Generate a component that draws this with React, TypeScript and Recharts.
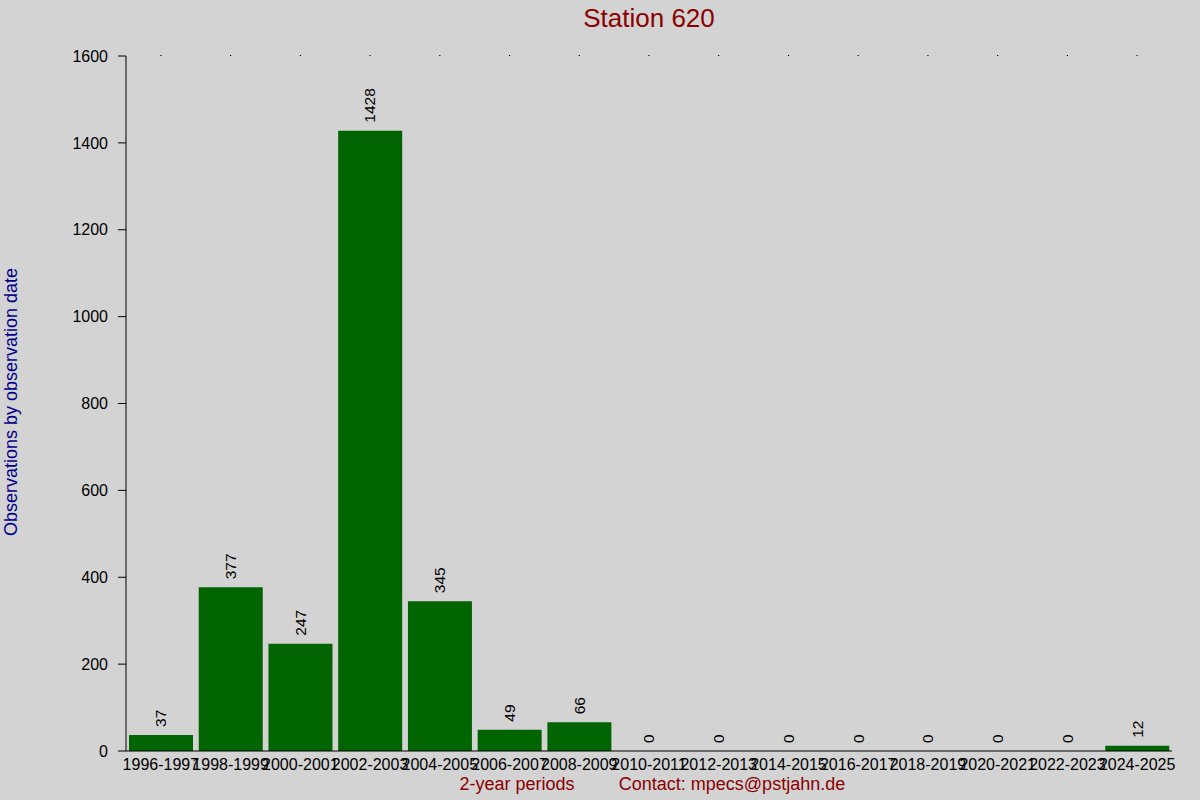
import React from "react";
import { Bar, ComposedChart, LabelList, Line, XAxis, YAxis } from "recharts";

// observations per 2-year period for station 620
const periods = [
  "1996-1997",
  "1998-1999",
  "2000-2001",
  "2002-2003",
  "2004-2005",
  "2006-2007",
  "2008-2009",
  "2010-2011",
  "2012-2013",
  "2014-2015",
  "2016-2017",
  "2018-2019",
  "2020-2021",
  "2022-2023",
  "2024-2025",
];
const observations = [37, 377, 247, 1428, 345, 49, 66, 0, 0, 0, 0, 0, 0, 0, 12];
const yTicks = [0, 200, 400, 600, 800, 1000, 1200, 1400, 1600];

const title = "Station 620";
const yTitle = "Observations by observation date";
const xTitle = "2-year periods";
const contact = "Contact: mpecs@pstjahn.de";

const FONT = "'Liberation Sans', Arial, sans-serif";

if (typeof document !== "undefined") {
  document.body.style.margin = "0";
}

// rotated value above each bar; drawn from an invisible line so zero bars get one too
function ValueLabel(props: any) {
  const { x, y, value } = props;
  const cx = Number(x);
  const top = Number(y) - 8;
  return (
    <text
      x={cx}
      y={top}
      transform={`rotate(-90 ${cx} ${top})`}
      textAnchor="start"
      dy="0.35em"
      fontSize={15.5}
      fontFamily={FONT}
      fill="#000"
    >
      {value}
    </text>
  );
}

export default function App() {
  const data = periods.map((period, i) => ({
    period,
    count: observations[i],
  }));

  return (
    <div
      style={{
        position: "relative",
        width: 1200,
        height: 800,
        background: "#d3d3d3",
        fontFamily: FONT,
      }}
    >
      <ComposedChart
        width={1200}
        height={800}
        data={data}
        margin={{ top: 46, right: 28, bottom: 19, left: 0 }}
        barCategoryGap={3}
      >
        <XAxis
          dataKey="period"
          interval={0}
          tickLine={false}
          axisLine={{ stroke: "#000" }}
          tick={{ fontSize: 16, fill: "#000", fontFamily: FONT }}
          height={30}
        />
        {/* tiny dot marks along the top edge, one per category */}
        <XAxis
          xAxisId="top"
          dataKey="period"
          orientation="top"
          interval={0}
          height={10}
          axisLine={false}
          tickSize={1}
          tickLine={{ stroke: "#000", strokeWidth: 1.2 }}
          tick={{ fontSize: 1, fill: "none" }}
        />
        <YAxis
          domain={[0, 1600]}
          ticks={yTicks}
          width={126}
          tickSize={8}
          tickMargin={10}
          axisLine={{ stroke: "#000" }}
          tickLine={{ stroke: "#000" }}
          tick={{ fontSize: 16, fill: "#000", fontFamily: FONT }}
        />
        <Bar dataKey="count" fill="#006400" isAnimationActive={false} />
        <Line
          dataKey="count"
          stroke="none"
          dot={false}
          activeDot={false}
          isAnimationActive={false}
        >
          <LabelList dataKey="count" content={<ValueLabel />} />
        </Line>
      </ComposedChart>
      <svg
        width={1200}
        height={800}
        style={{ position: "absolute", left: 0, top: 0, pointerEvents: "none" }}
      >
        <text
          x={649}
          y={27}
          textAnchor="middle"
          fontSize={26}
          fontFamily={FONT}
          fill="#8b0000"
        >
          {title}
        </text>
        <text
          x={0}
          y={0}
          transform="translate(17 402) rotate(-90)"
          textAnchor="middle"
          fontSize={18}
          fontFamily={FONT}
          fill="#00008b"
        >
          {yTitle}
        </text>
        <text
          x={517}
          y={790}
          textAnchor="middle"
          fontSize={18}
          fontFamily={FONT}
          fill="#8b0000"
        >
          {xTitle}
        </text>
        <text
          x={732}
          y={790}
          textAnchor="middle"
          fontSize={18}
          fontFamily={FONT}
          fill="#8b0000"
        >
          {contact}
        </text>
      </svg>
    </div>
  );
}
